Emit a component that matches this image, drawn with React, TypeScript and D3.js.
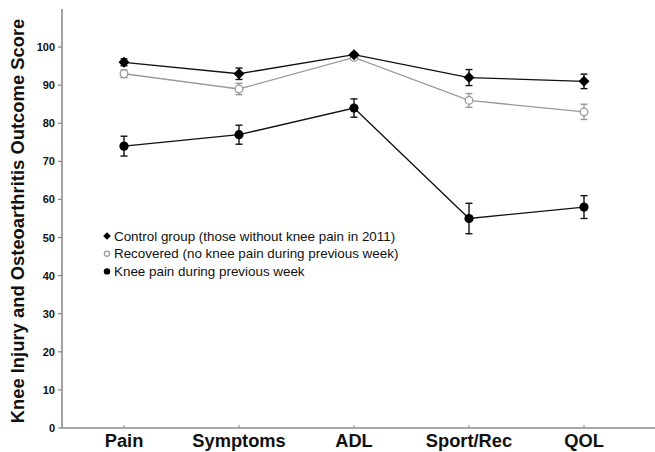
import { useEffect } from "react";
import * as d3 from "d3";

const categories = ["Pain", "Symptoms", "ADL", "Sport/Rec", "QOL"];

// mean scores and error (half-length of bar) per group
const controlMean = [96, 93, 98, 92, 91];
const controlErr = [0.9, 1.5, 0.5, 2.1, 1.9];
const recoveredMean = [93, 89, 97.3, 86, 83];
const recoveredErr = [1.0, 1.5, 0.6, 1.8, 2.0];
const painMean = [74, 77, 84, 55, 58];
const painErr = [2.6, 2.5, 2.4, 4.0, 3.0];

const yTicks = [0, 10, 20, 30, 40, 50, 60, 70, 80, 90, 100];

const legendLabels = [
  "Control group (those without knee pain in 2011)",
  "Recovered (no knee pain during previous week)",
  "Knee pain during previous week",
];

const width = 655;
const height = 452;
const axisColor = "#8c8c8c";
const grayLine = "#9a9a9a";

type Series = {
  mean: number[];
  err: number[];
  color: string;
  marker: "diamond" | "open" | "filled";
};

const series: Series[] = [
  { mean: recoveredMean, err: recoveredErr, color: grayLine, marker: "open" },
  { mean: painMean, err: painErr, color: "#111", marker: "filled" },
  { mean: controlMean, err: controlErr, color: "#111", marker: "diamond" },
];

function Marker({ kind, x, y, size = 1 }: { kind: string; x: number; y: number; size?: number }) {
  if (kind === "diamond") {
    const r = 5.5 * size;
    return (
      <path
        d={`M${x},${y - r}L${x + r},${y}L${x},${y + r}L${x - r},${y}Z`}
        fill="#000"
      />
    );
  }
  if (kind === "open") {
    return <circle cx={x} cy={y} r={3.8 * size} fill="#fff" stroke={grayLine} strokeWidth={1.3} />;
  }
  return <circle cx={x} cy={y} r={4.6 * size} fill="#000" />;
}

export default function App() {
  useEffect(() => {
    document.body.style.margin = "0";
  }, []);

  const x = d3.scalePoint<string>().domain(categories).range([124, 584]);
  const y = d3.scaleLinear().domain([0, 110]).range([428, 9]);

  const line = d3
    .line<number>()
    .x((_, i) => x(categories[i]) as number)
    .y((d) => y(d));

  const font = "'Liberation Sans', Arial, Helvetica, sans-serif";
  const x0 = 62;
  const y0 = y(0);

  return (
    <svg width={width} height={height} style={{ display: "block", background: "#fff" }} fontFamily={font}>
      {/* axes */}
      <line x1={x0} x2={x0} y1={y(110)} y2={y0} stroke={axisColor} strokeWidth={1.6} />
      <line x1={x0} x2={width} y1={y0} y2={y0} stroke={axisColor} strokeWidth={1.6} />
      {yTicks.map((t) => (
        <g key={t}>
          <line x1={x0 - 4} x2={x0} y1={y(t)} y2={y(t)} stroke={axisColor} strokeWidth={1.3} />
          <text
            x={x0 - 7}
            y={y(t)}
            textAnchor="end"
            dominantBaseline="central"
            fontSize={11}
            fontWeight="bold"
            fill="#111"
          >
            {t}
          </text>
        </g>
      ))}
      {categories.map((c) => (
        <g key={c}>
          <line x1={x(c)} x2={x(c)} y1={y0 - 3} y2={y0} stroke={axisColor} strokeWidth={1} />
          <text x={x(c)} y={y0 + 19} textAnchor="middle" fontSize={18.3} fontWeight="bold" fill="#111">
            {c}
          </text>
        </g>
      ))}
      <text
        transform={`translate(24,221) rotate(-90)`}
        textAnchor="middle"
        fontSize={18.4}
        fontWeight="bold"
        fill="#111"
      >
        Knee Injury and Osteoarthritis Outcome Score
      </text>

      {/* series */}
      {series.map((s, si) => (
        <g key={si}>
          <path d={line(s.mean) || ""} fill="none" stroke={s.color} strokeWidth={1.3} />
          {s.mean.map((m, i) => {
            const cx = x(categories[i]) as number;
            const lo = y(m - s.err[i]);
            const hi = y(m + s.err[i]);
            return (
              <g key={i}>
                <line x1={cx} x2={cx} y1={lo} y2={hi} stroke={s.color} strokeWidth={1.4} />
                <line x1={cx - 3.5} x2={cx + 3.5} y1={lo} y2={lo} stroke={s.color} strokeWidth={1.4} />
                <line x1={cx - 3.5} x2={cx + 3.5} y1={hi} y2={hi} stroke={s.color} strokeWidth={1.4} />
                <Marker kind={s.marker} x={cx} y={y(m)} />
              </g>
            );
          })}
        </g>
      ))}

      {/* legend */}
      {legendLabels.map((label, i) => {
        const ly = 236 + i * 17.7;
        const kind = ["diamond", "open", "filled"][i];
        return (
          <g key={label}>
            <Marker kind={kind} x={107} y={ly} size={0.7} />
            <text x={114} y={ly} dominantBaseline="central" fontSize={13.4} fill="#111">
              {label}
            </text>
          </g>
        );
      })}
    </svg>
  );
}
